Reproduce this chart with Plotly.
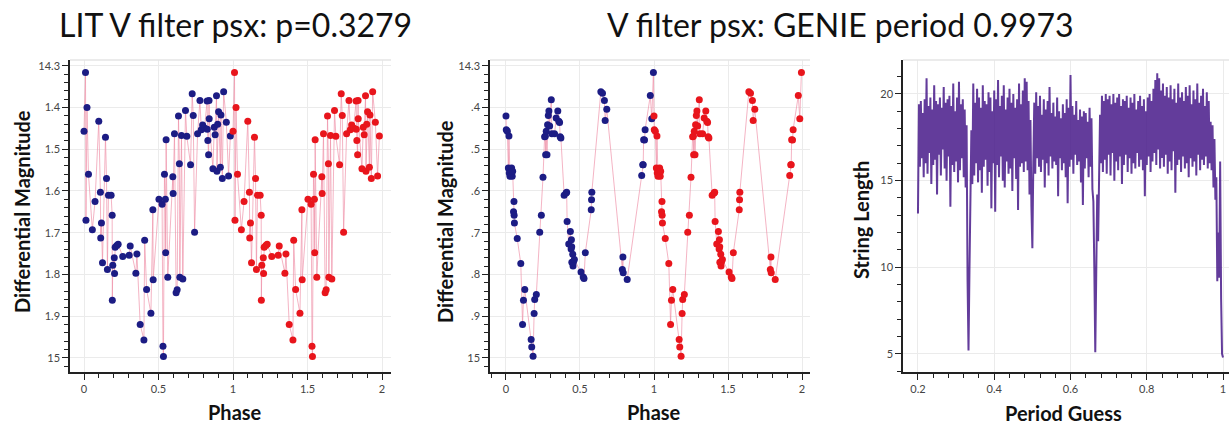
import plotly.graph_objects as go

W, H = 1229, 428

# ---------------- data ----------------
# LIT period fold (p = 0.3279): phase in [0,1), differential magnitude
lit_phase = [0.000, 0.010, 0.013, 0.020, 0.030, 0.056, 0.074, 0.099, 0.110, 0.112,
             0.117, 0.124, 0.144, 0.151, 0.157, 0.164, 0.182, 0.189, 0.190, 0.193,
             0.203, 0.205, 0.209, 0.220, 0.229, 0.260, 0.303, 0.310, 0.348, 0.355,
             0.377, 0.402, 0.407, 0.420, 0.449, 0.462, 0.464, 0.503, 0.524, 0.530,
             0.533, 0.540, 0.546, 0.548, 0.551, 0.562, 0.596, 0.598, 0.607, 0.618,
             0.625, 0.634, 0.640, 0.643, 0.654, 0.663, 0.681, 0.690, 0.715, 0.726,
             0.733, 0.742, 0.762, 0.778, 0.787, 0.796, 0.809, 0.826, 0.827, 0.831,
             0.836, 0.839, 0.840, 0.865, 0.874, 0.880, 0.889, 0.892, 0.897, 0.903,
             0.915, 0.919, 0.928, 0.937, 0.955, 0.970, 0.982]
lit_mag = [14.457, 14.316, 14.670, 14.400, 14.560, 14.693, 14.625, 14.433, 14.603, 14.713,
           14.677, 14.772, 14.471, 14.570, 14.788, 14.610, 14.610, 14.658, 14.862, 14.778,
           14.760, 14.798, 14.735, 14.731, 14.728, 14.757, 14.754, 14.732, 14.797, 14.751,
           14.920, 14.957, 14.718, 14.836, 14.893, 14.645, 14.813, 14.620, 14.632, 14.972,
           14.997, 14.560, 14.620, 14.748, 14.477, 14.807, 14.566, 14.606, 14.463, 14.844,
           14.837, 14.420, 14.535, 14.807, 14.467, 14.811, 14.407, 14.469, 14.537, 14.367,
           14.419, 14.699, 14.463, 14.383, 14.453, 14.442, 14.449, 14.384, 14.452, 14.479,
           14.513, 14.383, 14.427, 14.547, 14.447, 14.465, 14.372, 14.553, 14.440, 14.410,
           14.543, 14.418, 14.570, 14.362, 14.435, 14.564, 14.468]

# GENIE period fold (0.9973)
genie_phase = [0.000, 0.002, 0.009, 0.016, 0.020, 0.022, 0.027, 0.038, 0.042, 0.045,
               0.051, 0.054, 0.055, 0.057, 0.076, 0.100, 0.112, 0.118, 0.127, 0.170,
               0.174, 0.183, 0.190, 0.194, 0.205, 0.228, 0.239, 0.250, 0.261, 0.266,
               0.268, 0.272, 0.277, 0.281, 0.286, 0.290, 0.295, 0.306, 0.310, 0.328,
               0.339, 0.350, 0.357, 0.362, 0.366, 0.371, 0.393, 0.406, 0.410, 0.413,
               0.424, 0.435, 0.440, 0.442, 0.444, 0.445, 0.451, 0.453, 0.455, 0.462,
               0.507, 0.522, 0.527, 0.536, 0.576, 0.578, 0.580, 0.641, 0.652, 0.665,
               0.670, 0.681, 0.786, 0.790, 0.792, 0.819, 0.917, 0.924, 0.927, 0.930,
               0.936, 0.940, 0.975, 0.985, 0.996]
genie_mag = [14.420, 14.453, 14.457, 14.545, 14.468, 14.557, 14.565, 14.545, 14.565, 14.553,
             14.650, 14.625, 14.658, 14.677, 14.714, 14.774, 14.920, 14.862, 14.836, 14.956,
             14.974, 14.996, 14.894, 14.860, 14.848, 14.699, 14.658, 14.567, 14.470, 14.469,
             14.513, 14.457, 14.513, 14.441, 14.419, 14.408, 14.444, 14.381, 14.463, 14.463,
             14.425, 14.408, 14.433, 14.436, 14.470, 14.473, 14.610, 14.605, 14.603, 14.673,
             14.727, 14.697, 14.739, 14.717, 14.734, 14.771, 14.752, 14.780, 14.771, 14.764,
             14.794, 14.806, 14.810, 14.748, 14.645, 14.621, 14.603, 14.362, 14.366, 14.383,
             14.431, 14.404, 14.788, 14.758, 14.796, 14.812, 14.563, 14.537, 14.537, 14.477,
             14.478, 14.453, 14.371, 14.427, 14.316]

# String-length periodogram: period guesses from 0.2 to 1.0 in steps of 0.0025
period_start = 0.2
period_step = 0.0025
string_length = [
    13.1, 19.4, 15.8, 19.6, 16.3, 18.9, 15.2, 19.7,
    16.0, 20.9, 15.4, 19.3, 16.6, 19.8, 14.8, 19.1,
    15.9, 20.5, 16.2, 19.6, 14.2, 19.4, 16.5, 19.8,
    15.3, 19.2, 16.8, 20.4, 15.7, 19.5, 15.0, 19.7,
    16.4, 19.9, 13.5, 19.3, 15.9, 20.6, 15.5, 19.0,
    16.1, 19.8, 14.9, 20.7, 15.6, 19.4, 16.3, 19.7,
    15.2, 19.1, 14.6, 18.2, 9.3, 5.2, 9.8, 14.0,
    17.9, 14.8, 20.6, 15.3, 19.5, 16.0, 20.3, 14.9,
    19.8, 15.6, 19.2, 14.3, 20.5, 15.8, 19.6, 16.2,
    19.4, 14.7, 20.1, 15.5, 19.8, 13.4, 19.0, 16.0,
    20.2, 13.2, 19.7, 15.9, 20.8, 15.2, 19.3, 16.4,
    19.9, 15.0, 20.5, 14.6, 19.1, 16.1, 19.8, 15.4,
    20.3, 15.7, 19.5, 14.4, 20.0, 16.3, 19.2, 15.1,
    19.7, 13.3, 20.6, 15.8, 19.4, 16.0, 20.2, 15.5,
    20.9, 16.1, 20.7, 15.6, 19.6, 14.2, 18.5, 13.5,
    11.1, 16.0, 19.5, 15.4, 20.1, 16.3, 19.3, 15.8,
    19.9, 15.5, 18.8, 16.2, 19.7, 14.6, 19.1, 16.0,
    19.6, 15.3, 20.4, 16.4, 18.9, 15.7, 19.5, 16.1,
    18.7, 15.9, 19.8, 14.1, 19.0, 16.3, 18.6, 15.6,
    19.4, 16.0, 18.9, 15.2, 19.7, 13.7, 19.2, 15.8,
    21.1, 16.2, 19.3, 15.4, 18.8, 16.5, 19.6, 15.9,
    18.5, 16.1, 19.1, 14.9, 18.7, 13.6, 19.0, 15.7,
    18.9, 16.3, 18.4, 15.2, 19.2, 15.8, 18.6, 14.5,
    13.8, 9.9, 5.1, 9.6, 14.2, 11.5, 15.0, 18.8,
    16.0, 19.9, 15.5, 19.6, 16.2, 20.0, 15.4, 19.7,
    16.5, 19.9, 15.3, 19.4, 16.6, 20.0, 15.0, 19.5,
    16.1, 19.8, 15.6, 20.0, 16.4, 19.3, 14.8, 19.7,
    15.9, 19.6, 16.5, 19.9, 15.5, 19.2, 16.3, 19.8,
    15.4, 19.5, 16.0, 20.0, 15.7, 19.1, 16.6, 19.6,
    15.8, 19.9, 16.2, 19.3, 15.6, 19.7, 14.1, 19.0,
    15.9, 19.8, 16.4, 20.0, 15.5, 19.6, 16.1, 20.3,
    16.6, 20.8, 15.9, 21.2, 16.8, 20.9, 15.7, 20.2,
    16.3, 20.6, 15.8, 19.9, 16.5, 20.4, 15.4, 19.8,
    16.1, 20.5, 15.6, 19.7, 16.7, 20.3, 14.3, 19.5,
    15.9, 20.6, 16.2, 19.8, 15.5, 20.1, 16.4, 19.6,
    15.7, 20.4, 16.0, 19.9, 15.2, 20.5, 16.3, 19.4,
    15.8, 20.2, 16.1, 19.7, 15.3, 20.6, 16.5, 19.5,
    15.6, 19.9, 16.2, 20.3, 15.9, 19.3, 16.4, 20.1,
    15.7, 19.6, 16.0, 18.4, 15.6, 18.2, 14.6, 17.4,
    13.9, 15.2, 9.2, 12.0, 9.4, 16.1, 8.2, 5.0,
    4.8,
]

mag_ticks = [14.3, 14.4, 14.5, 14.6, 14.7, 14.8, 14.9, 15.0]
lit_mag_ticktext = ["14.3", "1.4", "1.5", "1.6", "1.7", "1.8", "1.9", "15"]
genie_mag_ticktext = ["14.3", ".4", ".5", ".6", ".7", ".8", ".9", "15"]
phase_ticks = [0, 0.5, 1, 1.5, 2]
phase_ticktext = ["0", "0.5", "1", "1.5", "2"]
period_ticks = [0.2, 0.4, 0.6, 0.8, 1.0]
period_ticktext = ["0.2", "0.4", "0.6", "0.8", "1"]
sl_ticks = [5, 10, 15, 20]
sl_ticktext = ["5", "10", "15", "20"]

# ---------------- styling ----------------
BLUE = "#1c1c84"
RED = "#e8151c"
PINK = "rgba(238,140,165,0.65)"
PURPLE = "rgba(72,26,138,0.85)"
FONT = "Lato"


def px_x(p):
    return p / W


def px_y(p):
    return 1 - p / H


fig = go.Figure()


def add_fold(phase, mag, xa, ya):
    ph2 = phase + [p + 1 for p in phase]
    mg2 = mag + mag
    fig.add_trace(go.Scatter(x=ph2, y=mg2, mode="lines", xaxis=xa, yaxis=ya,
                             line=dict(color=PINK, width=1), hoverinfo="skip",
                             showlegend=False))
    fig.add_trace(go.Scatter(x=phase, y=mag, mode="markers", xaxis=xa, yaxis=ya,
                             marker=dict(color=BLUE, size=7), showlegend=False))
    fig.add_trace(go.Scatter(x=[p + 1 for p in phase], y=mag, mode="markers",
                             xaxis=xa, yaxis=ya,
                             marker=dict(color=RED, size=7), showlegend=False))


add_fold(lit_phase, lit_mag, "x", "y")
add_fold(genie_phase, genie_mag, "x2", "y2")

periods = [period_start + i * period_step for i in range(len(string_length))]
fig.add_trace(go.Scatter(x=periods, y=string_length, mode="lines", xaxis="x3", yaxis="y3",
                         line=dict(color=PURPLE, width=2), showlegend=False))

ydom = [px_y(372), px_y(60)]
tickfont = dict(family=FONT, size=11, color="#444")
common = dict(showline=True, linecolor="#222", linewidth=1.5, ticks="outside",
              ticklen=6, tickwidth=1.2, tickcolor="#222", zeroline=False,
              showgrid=True, gridcolor="#ebebeb", gridwidth=1, tickfont=tickfont)


def xax(dom, rng, vals, text, minor_dtick, tick0):
    d = dict(common)
    d.update(domain=dom, range=rng, tickmode="array", tickvals=vals, ticktext=text,
             minor=dict(tickmode="linear", tick0=tick0, dtick=minor_dtick, ticks="outside",
                        ticklen=4, tickcolor="#222", tickwidth=1, showgrid=False))
    return d


def yax(anchor, rng, vals, text, minor_dtick, tick0):
    d = dict(common)
    d.update(domain=ydom, range=rng, anchor=anchor, tickmode="array", tickvals=vals,
             ticktext=text,
             minor=dict(tickmode="linear", tick0=tick0, dtick=minor_dtick, ticks="outside",
                        ticklen=4, tickcolor="#222", tickwidth=1, showgrid=False))
    return d


layout = dict(
    width=W, height=H, margin=dict(l=0, r=0, t=0, b=0),
    paper_bgcolor="white", plot_bgcolor="white",
    xaxis=dict(xax([px_x(70), px_x(391)], [-0.094, 2.060], phase_ticks, phase_ticktext, 0.1, 0),
               anchor="y"),
    yaxis=yax("x", [15.034, 14.286], mag_ticks, lit_mag_ticktext, 0.02, 14.3),
    xaxis2=dict(xax([px_x(490), px_x(810)], [-0.108, 2.054], phase_ticks, phase_ticktext, 0.1, 0),
                anchor="y2"),
    yaxis2=yax("x2", [15.034, 14.286], mag_ticks, genie_mag_ticktext, 0.02, 14.3),
    xaxis3=dict(xax([px_x(903), 1.0], [0.1607, 1.0157], period_ticks, period_ticktext, 0.04, 0.2),
                anchor="y3"),
    yaxis3=yax("x3", [3.96, 21.96], sl_ticks, sl_ticktext, 1, 5),
    font=dict(family=FONT, color="#111"),
)
fig.update_layout(**layout)

# faint top frame lines
for xr, yr in [("x domain", "y domain"), ("x2 domain", "y2 domain"), ("x3 domain", "y3 domain")]:
    fig.add_shape(type="line", xref=xr, yref=yr, x0=0, x1=1, y0=1, y1=1,
                  line=dict(color="#e4e4e4", width=1.5))

ann = []
title_font = dict(family=FONT, size=32, color="#111")
ann.append(dict(text="LIT V filter psx: p=0.3279", x=px_x(236), y=px_y(24), xref="paper",
                yref="paper", xanchor="center", yanchor="middle", showarrow=False,
                font=title_font))
ann.append(dict(text="V filter psx: GENIE period 0.9973", x=px_x(840), y=px_y(24), xref="paper",
                yref="paper", xanchor="center", yanchor="middle", showarrow=False,
                font=title_font))
axis_font = dict(family=FONT, size=20, color="#111", weight="bold")
for t, xc, yc in [("Phase", 235, 412), ("Phase", 654, 412), ("Period Guess", 1063, 413)]:
    ann.append(dict(text=t, x=px_x(xc), y=px_y(yc), xref="paper", yref="paper",
                    xanchor="center", yanchor="middle", showarrow=False, font=axis_font))
for t, xc, yc in [("Differential Magnitude", 22, 212), ("Differential Magnitude", 445, 222),
                  ("String Length", 861, 220)]:
    ann.append(dict(text=t, x=px_x(xc), y=px_y(yc), xref="paper", yref="paper",
                    xanchor="center", yanchor="middle", showarrow=False, textangle=-90,
                    font=axis_font))
fig.update_layout(annotations=ann)

fig.write_html("out.html")
